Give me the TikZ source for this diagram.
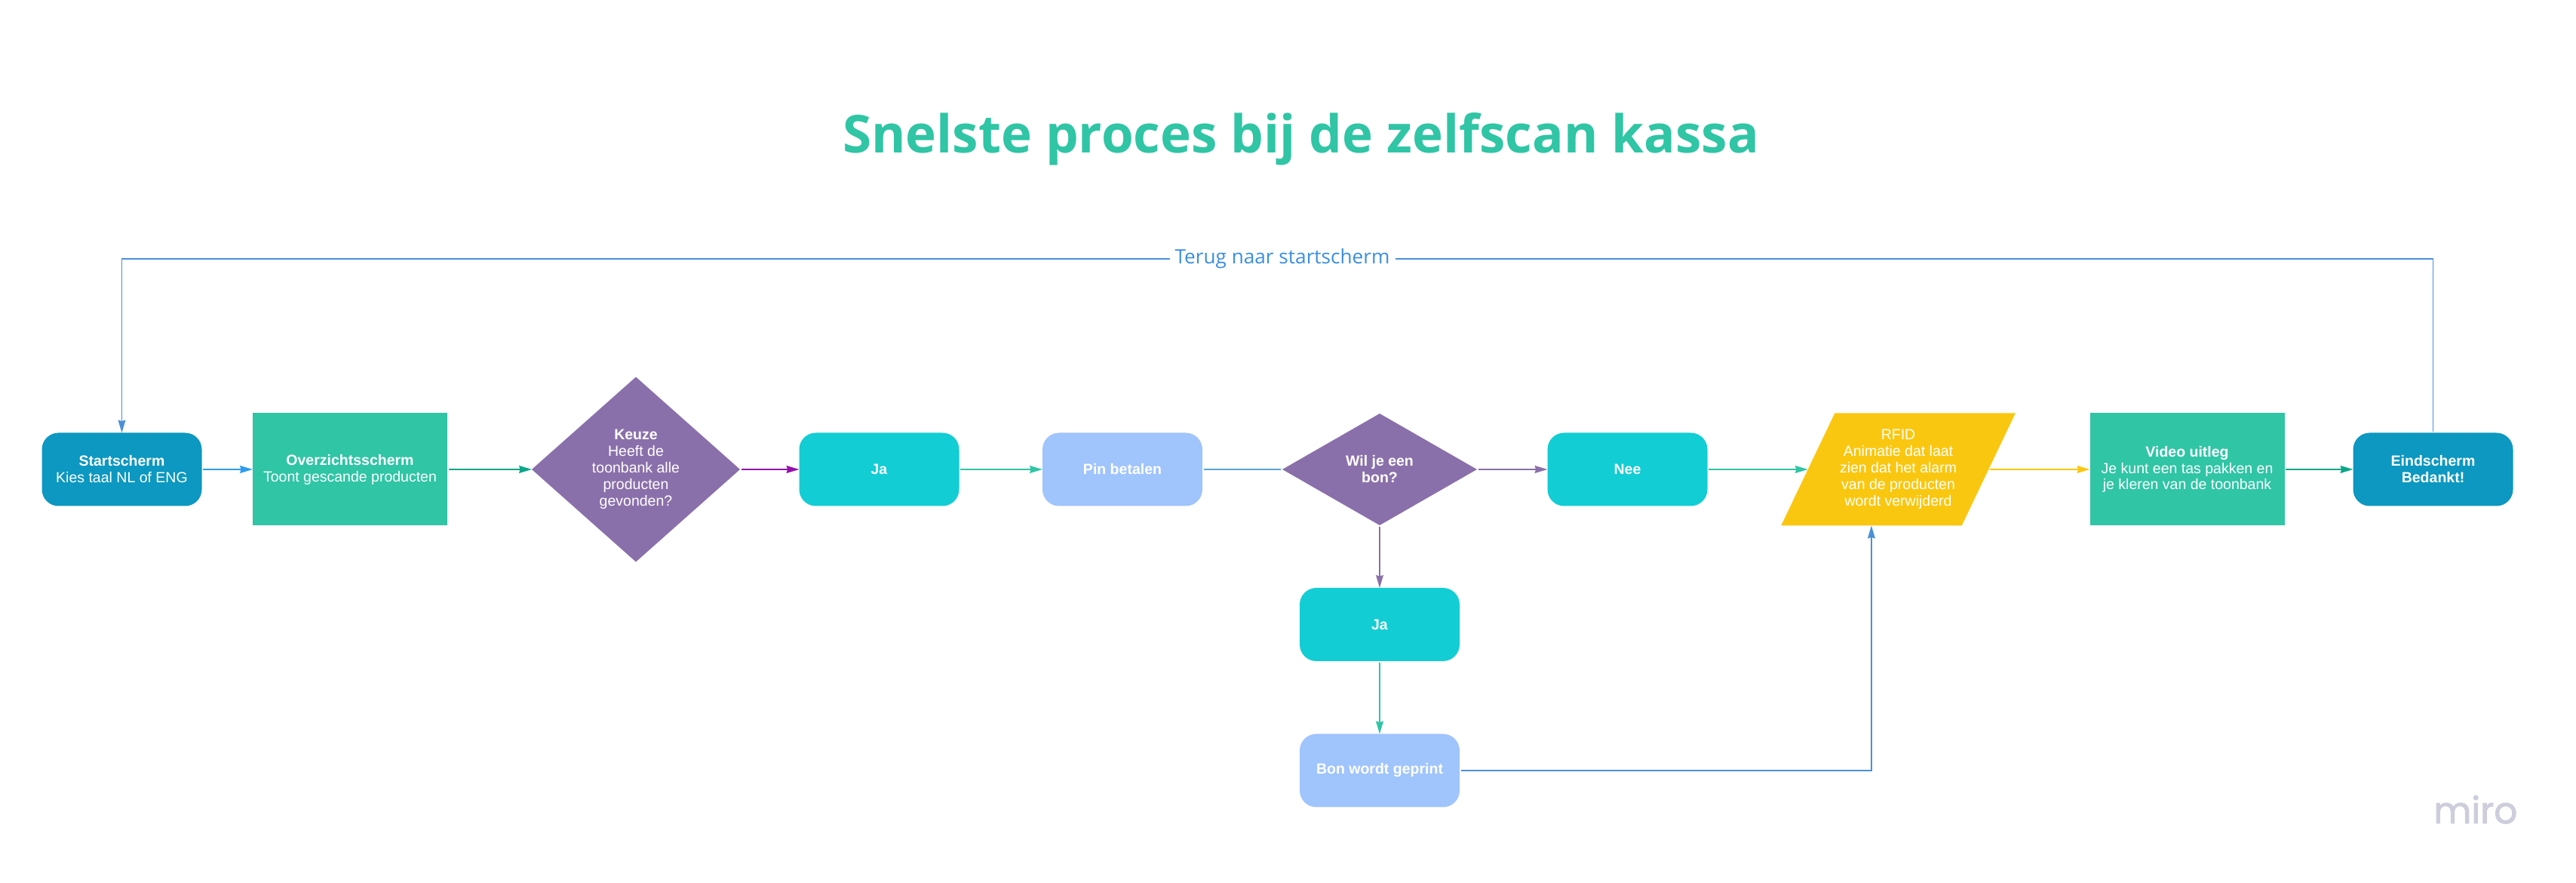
\documentclass[tikz,border=0pt]{standalone}
\usepackage{fontspec}
\setmainfont{Liberation Sans}
\newfontfamily\titlefont{Open Sans}
\newfontfamily\logofont[FakeBold=2]{Poppins}
\usetikzlibrary{shapes.geometric, arrows.meta}
\definecolor{s1}{HTML}{0C98C0}
\definecolor{g1}{HTML}{2FC5A5}
\definecolor{g2}{HTML}{0CA789}
\definecolor{p1}{HTML}{8A70AA}
\definecolor{p2}{HTML}{9510AC}
\definecolor{c1}{HTML}{12CDD4}
\definecolor{l1}{HTML}{A0C4FC}
\definecolor{y1}{HTML}{FAC710}
\definecolor{b1}{HTML}{2D9BF0}
\definecolor{b2}{HTML}{4A90D9}
\definecolor{b3}{HTML}{3A8FE0}
\definecolor{t1}{HTML}{5AA5CC}
\definecolor{m1}{HTML}{CDCDDB}
\tikzset{
	txt/.style={text=white, align=center, inner sep=0pt, outer sep=0pt, font=\fontsize{5.55}{6.25}\selectfont},
	roundbox/.style={txt, rectangle, rounded corners=0.22cm, minimum width=2.12cm, minimum height=0.97cm},
	squarebox/.style={txt, rectangle, fill=g1, minimum width=2.58cm, minimum height=1.49cm},
	choice/.style={txt, diamond, fill=p1},
	link/.style={line width=0.45pt, shorten <=0.5pt, -{Stealth[length=4.8pt, width=2.8pt, inset=0.4pt]}},
	thinlink/.style={link, line width=0.38pt},
	plainlink/.style={line width=0.38pt, shorten <=0.5pt, shorten >=0.5pt}
}

\begin{document}
\begin{tikzpicture}
	\useasboundingbox (0,0) rectangle (34.15,11.7);

	% Title
	\node[anchor=base, text=g1, inner sep=0pt, font=\titlefont\bfseries\fontsize{19.7}{24}\selectfont] (title) at (17.245,9.67) {Snelste proces bij de zelfscan kassa};

	% Top row
	\node[roundbox, fill=s1] (start) at (1.615,5.48) {\textbf{Startscherm}\\Kies taal NL of ENG};
	\node[squarebox] (over) at (4.64,5.48) {\textbf{Overzichtsscherm}\\Toont gescande producten};
	\node[choice, minimum width=2.76cm, minimum height=2.45cm] (keuze) at (8.43,5.48) {\textbf{Keuze}\\Heeft de\\toonbank alle\\producten\\gevonden?};
	\node[roundbox, fill=c1] (ja) at (11.655,5.48) {\textbf{Ja}};
	\node[roundbox, fill=l1] (pin) at (14.88,5.48) {\textbf{Pin betalen}};
	\node[choice, minimum width=2.58cm, minimum height=1.48cm] (bon) at (18.29,5.48) {\textbf{Wil je een}\\\textbf{bon?}};
	\node[roundbox, fill=c1] (nee) at (21.575,5.48) {\textbf{Nee}};
	\node[txt, trapezium, trapezium left angle=58.1, trapezium right angle=121.9, trapezium stretches=true, fill=y1, minimum width=3.13cm, minimum height=1.49cm] (rfid) at (25.165,5.48) {RFID\\Animatie dat laat\\zien dat het alarm\\van de producten\\wordt verwijderd};
	\node[squarebox] (video) at (28.995,5.48) {\textbf{Video uitleg}\\Je kunt een tas pakken en\\je kleren van de toonbank};
	\node[roundbox, fill=s1] (eind) at (32.255,5.48) {\textbf{Eindscherm}\\\textbf{Bedankt!}};

	% Side branch
	\node[roundbox, fill=c1] (jabon) at (18.29,3.425) {\textbf{Ja}};
	\node[roundbox, fill=l1] (print) at (18.29,1.49) {\textbf{Bon wordt geprint}};

	% Straight connectors
	\foreach \a/\b/\c in {start.east/over.west/b1, over.east/keuze.west/g2, keuze.east/ja.west/p2, ja.east/pin.west/g1, bon.east/nee.west/p1, nee.east/rfid.left side/g1, rfid.right side/video.west/y1, video.east/eind.west/g2, bon.south/jabon.north/p1, jabon.south/print.north/g1} {
			\draw[link, \c] (\a) -- (\b);
		}
	\draw[plainlink, t1] (pin.east) -- (bon.west);

	% Back to the receipt path
	\draw[link, b2] (print.east) -| (rfid.bottom side);

	% Back to start
	\node[text=b3, inner xsep=1.3pt, inner ysep=0pt, font=\titlefont\fontsize{7.45}{8}\selectfont] (terug) at (17,8.27) {Terug naar startscherm};
	\draw[plainlink, b2] (eind.north) |- (terug.east);
	\draw[thinlink, b2] (terug.west) -| (start.north);

	% Logo
	\node[anchor=base east, text=m1, inner sep=0pt, font=\logofont\fontsize{13.8}{16}\selectfont] (logo) at (33.38,0.79) {miro};
\end{tikzpicture}
\end{document}
